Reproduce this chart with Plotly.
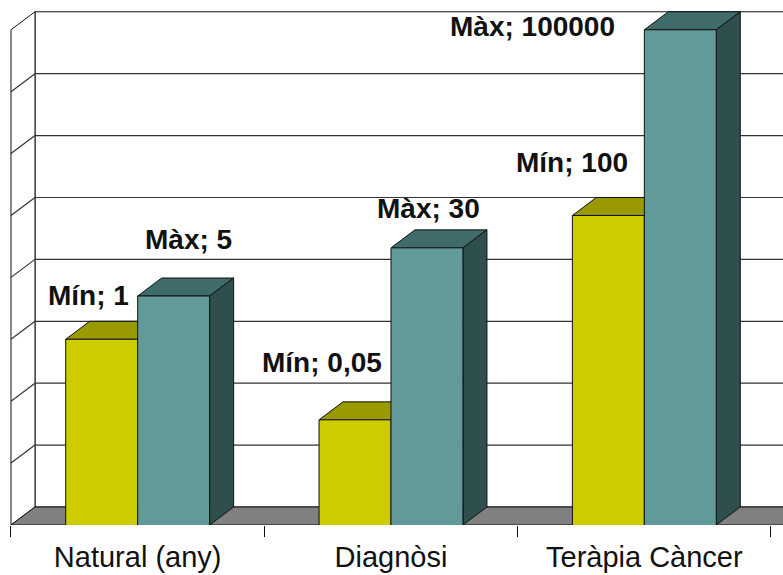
import math
import plotly.graph_objects as go

# ---- data -------------------------------------------------------------
categories = ["Natural (any)", "Diagnòsi", "Teràpia Càncer"]
min_values = [1, 0.05, 100]
max_values = [5, 30, 100000]
min_labels = ["Mín; 1", "Mín; 0,05", "Mín; 100"]
max_labels = ["Màx; 5", "Màx; 30", "Màx; 100000"]

# ---- geometry / styling ----------------------------------------------
W, H = 783, 575
FLOOR_PX = 525                      # pixel row of the front floor edge
X_LO, X_HI = -0.5434, 2.5474        # x range (category units)
Y_LO, Y_HI = -3.0, 5.481            # log10 range
PX_PER_X = W / (X_HI - X_LO)
PX_PER_DEC = FLOOR_PX / (Y_HI - Y_LO)

DEPTH_DX = 24 / PX_PER_X            # oblique depth, x part
DEPTH_F = 10 ** (18 / PX_PER_DEC)   # oblique depth, multiplicative y part
BAR_W = 0.284                       # width of one bar (category units)

Y_FLOOR = 10 ** Y_LO
Y_TOP = 1e5
X0, X1 = -0.5, 2.5

MIN_FRONT, MIN_TOP = "#CCCC00", "#999900"
MAX_FRONT, MAX_TOP, MAX_SIDE = "#629999", "#3F6B6B", "#2F4F4F"
FLOOR = "#808080"
EDGE = "#111111"

shapes = []


def poly(pts, fill, width=1.0, color=EDGE):
    path = "M " + " L ".join(f"{x},{y}" for x, y in pts) + " Z"
    shapes.append(dict(type="path", path=path, xref="x", yref="y",
                       fillcolor=fill, line=dict(color=color, width=width),
                       layer="below"))


def seg(x0, y0, x1, y1, color=EDGE, width=1.0):
    shapes.append(dict(type="line", x0=x0, y0=y0, x1=x1, y1=y1,
                       xref="x", yref="y", line=dict(color=color, width=width),
                       layer="below"))


# back wall
poly([(X0 + DEPTH_DX, Y_FLOOR * DEPTH_F), (X0 + DEPTH_DX, Y_TOP * DEPTH_F),
      (X1 + DEPTH_DX + 1, Y_TOP * DEPTH_F), (X1 + DEPTH_DX + 1, Y_FLOOR * DEPTH_F)],
     "white")
# left wall
poly([(X0, Y_FLOOR), (X0, Y_TOP), (X0 + DEPTH_DX, Y_TOP * DEPTH_F),
      (X0 + DEPTH_DX, Y_FLOOR * DEPTH_F)], "white")
# decade gridlines on both walls
for k in range(-2, 5):
    v = 10 ** k
    seg(X0 + DEPTH_DX, v * DEPTH_F, X1 + DEPTH_DX + 1, v * DEPTH_F, "#333333", 1.2)
    seg(X0, v, X0 + DEPTH_DX, v * DEPTH_F, "#333333", 1.2)
# floor
poly([(X0, Y_FLOOR), (X1 + 1, Y_FLOOR), (X1 + 1 + DEPTH_DX, Y_FLOOR * DEPTH_F),
      (X0 + DEPTH_DX, Y_FLOOR * DEPTH_F)], FLOOR)


def bar_faces(xl, xr, v, top_col, side_col):
    poly([(xl, v), (xr, v), (xr + DEPTH_DX, v * DEPTH_F), (xl + DEPTH_DX, v * DEPTH_F)],
         top_col)
    if side_col:
        poly([(xr, Y_FLOOR), (xr, v), (xr + DEPTH_DX, v * DEPTH_F),
              (xr + DEPTH_DX, Y_FLOOR * DEPTH_F)], side_col)


for i in range(len(categories)):
    bar_faces(i - BAR_W, i, min_values[i], MIN_TOP, None)
    bar_faces(i, i + BAR_W, max_values[i], MAX_TOP, MAX_SIDE)

fig = go.Figure()
xs = list(range(len(categories)))
fig.add_trace(go.Bar(x=xs, y=min_values, name="Mín",
                     marker=dict(color=MIN_FRONT, line=dict(color=EDGE, width=1))))
fig.add_trace(go.Bar(x=xs, y=max_values, name="Màx",
                     marker=dict(color=MAX_FRONT, line=dict(color=EDGE, width=1))))

# value labels
label_font = dict(family="Liberation Sans, Arial, sans-serif", size=28, color="#111111")
min_shift = [(-13, 44), (-33, 57), (-36, 53)]
max_shift = [(15, 57), (2, 39), (-148, 3)]
annotations = []
for i in range(len(categories)):
    annotations.append(dict(x=i - BAR_W / 2, y=math.log10(min_values[i]), xref="x", yref="y",
                            text=f"<b>{min_labels[i]}</b>", showarrow=False,
                            xshift=min_shift[i][0], yshift=min_shift[i][1], font=label_font))
    annotations.append(dict(x=i + BAR_W / 2, y=math.log10(max_values[i]), xref="x", yref="y",
                            text=f"<b>{max_labels[i]}</b>", showarrow=False,
                            xshift=max_shift[i][0], yshift=max_shift[i][1], font=label_font))

fig.update_layout(
    width=W, height=H,
    margin=dict(l=0, r=0, t=0, b=0),
    paper_bgcolor="white", plot_bgcolor="white",
    barmode="group", bargap=1 - 2 * BAR_W, bargroupgap=0,
    showlegend=False,
    shapes=shapes,
    annotations=annotations,
    xaxis=dict(range=[X_LO, X_HI], domain=[0, 1],
               tickvals=xs, ticktext=categories, ticks="",
               ticklabelstandoff=12,
               tickfont=dict(family="Liberation Sans, Arial, sans-serif", size=29, color="#111111"),
               showgrid=False, zeroline=False, showline=False,
               minor=dict(tickvals=[-0.5, 0.5, 1.5, 2.5], ticks="outside", ticklen=11,
                          tickcolor=EDGE, tickwidth=1, showgrid=False)),
    yaxis=dict(type="log", range=[Y_LO, Y_HI], domain=[(H - FLOOR_PX) / H, 1],
               showticklabels=False, showgrid=False, zeroline=False, showline=False,
               ticks=""),
)

fig.write_html("out.html")
